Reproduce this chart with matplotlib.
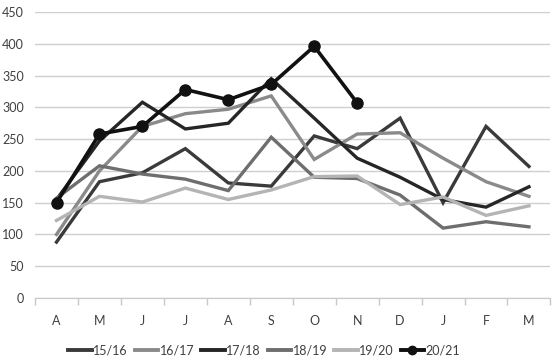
import matplotlib.pyplot as plt
from matplotlib.lines import Line2D

plt.rcParams['font.family'] = ['Lato', 'DejaVu Sans']

months = ["A", "M", "J", "J", "A", "S", "O", "N", "D", "J", "F", "M"]

s1516 = [88, 183, 197, 235, 181, 176, 255, 235, 283, 150, 270, 207]
s1617 = [100, 200, 270, 290, 297, 318, 218, 258, 260, 220, 183, 160]
s1718 = [155, 247, 308, 266, 275, 345, 283, 220, 190, 155, 143, 175]
s1819 = [157, 208, 195, 187, 169, 253, 190, 188, 162, 110, 120, 112]
s1920 = [122, 160, 151, 173, 155, 170, 191, 192, 147, 159, 130, 145]
s2021 = [150, 258, 270, 328, 312, 336, 396, 307]

series = [
    ("15/16", s1516, "#3a3a3a"),
    ("16/17", s1617, "#8a8a8a"),
    ("17/18", s1718, "#262626"),
    ("18/19", s1819, "#6e6e6e"),
    ("19/20", s1920, "#b4b4b4"),
]

fig, ax = plt.subplots(figsize=(5.56, 3.63), dpi=100)
fig.subplots_adjust(left=0.063, right=0.99, bottom=0.179, top=0.967)

x = list(range(len(months)))
handles = []
for name, vals, col in series:
    ax.plot(x[:len(vals)], vals, color=col, lw=2.4, solid_joinstyle="miter")
    handles.append(Line2D([], [], color=col, lw=2.8, label=name))

ax.plot(x[:len(s2021)], s2021, color="#111111", lw=2.6, marker="o", ms=8)
handles.append(Line2D([], [], color="#111111", lw=2.8, marker="o", ms=6, label="20/21"))

ax.set_ylim(0, 450)
ax.set_yticks(range(0, 451, 50))
ax.set_xlim(-0.5, 11.5)
ax.set_xticks(x)
ax.set_xticklabels(months)
ax.set_xticks([i - 0.5 for i in range(13)], minor=True)
ax.tick_params(axis="x", which="major", length=0, pad=12, labelsize=9, colors="#404040")
ax.tick_params(axis="x", which="minor", length=5, color="#c8c8c8", width=1)
ax.tick_params(axis="y", length=0, pad=8, labelsize=9, colors="#404040")

ax.grid(axis="y", color="#cfcfcf", lw=1)
ax.set_axisbelow(True)
for side in ["top", "right", "left"]:
    ax.spines[side].set_visible(False)
ax.spines["bottom"].set_color("#c8c8c8")

fig.legend(handles=handles, loc="center", bbox_to_anchor=(0.475, 0.035), ncol=6,
           frameon=False, fontsize=9, handlelength=1.9, handletextpad=0.1,
           columnspacing=0.55, labelcolor="#404040")

fig.savefig("out.png", dpi=100)
